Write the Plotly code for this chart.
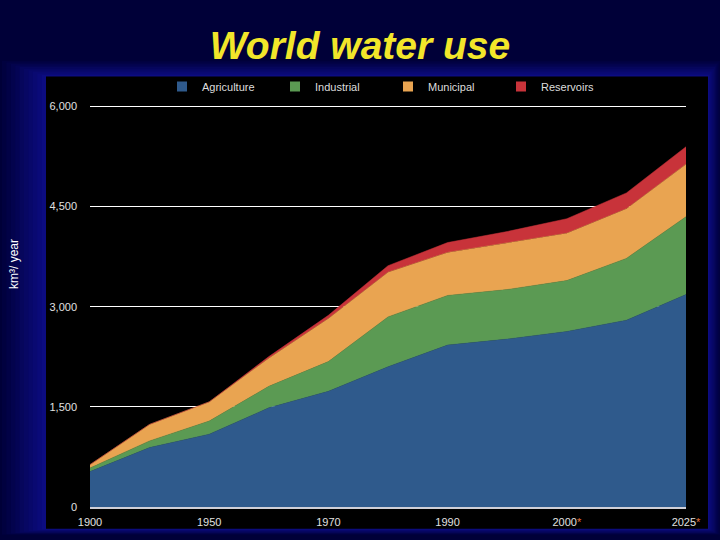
import plotly.graph_objects as go

# ---------------- data ----------------
x_idx = list(range(11))
years = ["1900", "1940", "1950", "1960", "1970", "1980", "1990", "1995", "2000", "2010", "2025"]
tick_pos = [0, 2, 4, 6, 8, 10]
tick_labels = [
    "1900", "1950", "1970", "1990",
    "2000<span style='color:#e8703a'>*</span>",
    "2025<span style='color:#e8703a'>*</span>",
]
agriculture = [530, 890, 1090, 1485, 1733, 2100, 2425, 2514, 2628, 2797, 3182]
industrial = [54, 100, 197, 322, 445, 747, 743, 743, 763, 926, 1165]
municipal = [50, 247, 287, 421, 644, 668, 644, 693, 708, 742, 787]
reservoirs = [0, 0, 0, 24, 49, 98, 148, 175, 218, 238, 261]
y_ticks = [0, 1500, 3000, 4500, 6000]
y_tick_labels = ["0", "1,500", "3,000", "4,500", "6,000"]

series = [
    ("Agriculture", agriculture, "#2f5a8c"),
    ("Industrial", industrial, "#5b9a53"),
    ("Municipal", municipal, "#e9a451"),
    ("Reservoirs", reservoirs, "#c8333a"),
]

W, H = 720, 540
YMAX = 6020
L, R, B = 90, 686, 510
T = B - 404 * YMAX / 6000


def px(x):
    return (x - L) / (R - L)


def py(y):
    return (B - y) / (B - T)


fig = go.Figure()
for name, vals, col in series:
    fig.add_trace(go.Scatter(
        x=x_idx, y=vals, name=name, mode="lines",
        stackgroup="one", line=dict(width=0.5, color=col),
        fillcolor=col, hovertext=years, showlegend=False,
    ))
# legend entries with square swatches
for name, vals, col in series:
    fig.add_trace(go.Scatter(
        x=[None], y=[None], name=name, mode="markers",
        marker=dict(symbol="square", size=10, color=col), showlegend=True,
    ))

# background glow + black panel
shapes = []
bg = (0, 0, 56)
hi = (12, 12, 128)
n = 10
for k in range(n):
    f = (n - k) / n
    t = (k + 1) / n
    c = tuple(int(bg[i] + (hi[i] - bg[i]) * t) for i in range(3))
    x0, x1 = 46 - 44 * f, 708 + 12 * f
    y0, y1 = 76 - 16 * f, 532 + 6 * f
    shapes.append(dict(type="rect", xref="paper", yref="paper", layer="below",
                       x0=px(x0), x1=px(x1), y0=py(y1), y1=py(y0),
                       fillcolor="rgb(%d,%d,%d)" % c, line=dict(width=0)))
shapes.append(dict(type="rect", xref="paper", yref="paper", layer="below",
                   x0=px(46), x1=px(708), y0=py(532), y1=py(76),
                   fillcolor="black", line=dict(width=0)))

tick_font = dict(family="Liberation Sans Narrow, Liberation Sans, Arial", size=11, color="#e0e0e0")

fig.update_layout(
    width=W, height=H,
    margin=dict(l=L, r=W - R, t=T, b=H - B),
    paper_bgcolor="#000038",
    plot_bgcolor="black",
    shapes=shapes,
    title=dict(text="World water use", x=0.5, xanchor="center",
               y=1 - 45 / H, yanchor="middle", yref="container",
               font=dict(family="Liberation Sans, Arial, sans-serif", size=39,
                         color="#f2e62a", weight="bold", style="italic")),
    showlegend=True,
    legend=dict(orientation="h", x=0.5, xanchor="center", y=py(86), yanchor="middle",
                font=dict(family="Liberation Sans Narrow, Liberation Sans, Arial", size=11, color="#dddddd"),
                bgcolor="rgba(0,0,0,0)", entrywidth=68, entrywidthmode="pixels",
                traceorder="normal", itemwidth=30),
    xaxis=dict(range=[0, 10], tickvals=tick_pos, ticktext=tick_labels,
               showgrid=False, zeroline=False, showline=True, linecolor="#d0d0d8", linewidth=1.5,
               ticks="", ticklabelstandoff=4, tickfont=tick_font),
    yaxis=dict(range=[0, YMAX], tickvals=y_ticks, ticktext=y_tick_labels,
               showgrid=True, gridcolor="white", gridwidth=1.2, zeroline=False,
               ticks="", ticklabelstandoff=12, tickfont=tick_font),
    annotations=[dict(text="km³/ year", xref="paper", yref="paper", x=px(14), y=py(265),
                      textangle=-90, showarrow=False, xanchor="center", yanchor="middle",
                      font=dict(family="Liberation Sans, Arial", size=12, color="white"))],
)

fig.write_html("out.html", config={"displayModeBar": False},
               post_script="document.body.style.margin='0';")
